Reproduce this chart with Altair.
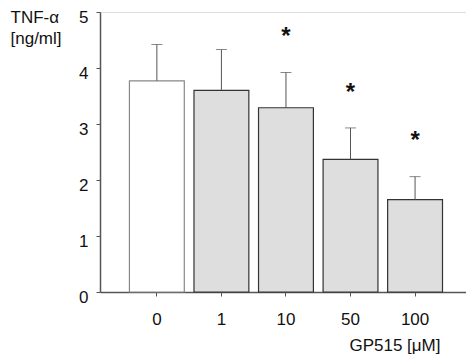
import altair as alt
import pandas as pd

conc = ["0", "1", "10", "50", "100"]
mean = [3.77, 3.60, 3.29, 2.37, 1.65]
err_top = [4.42, 4.33, 3.92, 2.93, 2.06]
stars = ["", "", "*", "*", "*"]
kind = ["control", "drug", "drug", "drug", "drug"]

df = pd.DataFrame({"conc": conc, "mean": mean, "err": err_top, "star": stars, "kind": kind})

FONT = "Liberation Sans"
AX = "#555555"

x = alt.X("conc:N", sort=conc,
          scale=alt.Scale(paddingInner=0.15, paddingOuter=0.41, align=0.556),
          axis=alt.Axis(title="GP515 [μM]", labelAngle=0, labelFontSize=17,
                        labelFont=FONT, labelColor="#111", labelPadding=15,
                        tickSize=4, tickColor=AX, domainColor=AX, domainWidth=1.5,
                        titleFont=FONT, titleFontSize=17, titleFontWeight="normal",
                        titleColor="#111", titleAnchor="start", titleAlign="right",
                        titleX=340, titleY=58, titleBaseline="alphabetic"))

y = alt.Y("mean:Q",
          scale=alt.Scale(domain=[0, 5], nice=False),
          axis=alt.Axis(values=[0, 0.5, 1, 1.5, 2, 2.5, 3, 3.5, 4, 4.5, 5],
                        labelExpr="datum.value % 1 == 0 ? format(datum.value, 'd') : ''",
                        grid=False, tickSize=4, tickColor=AX, domainColor=AX,
                        domainWidth=1.5, labelFontSize=17, labelFont=FONT,
                        labelColor="#111", labelPadding=8, labelBaseline="middle",
                        labelOffset=5,
                        title=["TNF-α", "[ng/ml]"], titleAngle=0, titleAlign="left",
                        titleBaseline="top", titleX=-90, titleY=-3, titleFont=FONT,
                        titleFontSize=17, titleFontWeight="normal", titleColor="#111",
                        titleLineHeight=21))

base = alt.Chart(df)

bars = base.mark_bar(strokeWidth=1.2).encode(
    x=x, y=y,
    fill=alt.Fill("kind:N", scale=alt.Scale(domain=["control", "drug"], range=["#ffffff", "#dedede"]), legend=None),
    stroke=alt.Stroke("kind:N", scale=alt.Scale(domain=["control", "drug"], range=["#888888", "#333333"]), legend=None),
)

rule = base.mark_rule(color="#555555", strokeWidth=1).encode(
    x=alt.X("conc:N", sort=conc), y="mean:Q", y2="err:Q")

cap = base.mark_tick(color="#555555", thickness=1, size=11).encode(
    x=alt.X("conc:N", sort=conc), y="err:Q")

star = base.transform_calculate(sy="datum.err + 0.7").mark_text(
    font=FONT, fontSize=24, fontWeight="bold", color="#111", baseline="alphabetic", dy=11
).encode(x=alt.X("conc:N", sort=conc), y="sy:Q", text="star:N")

chart = alt.layer(bars, rule, cap, star).properties(
    width=366, height=280,
    autosize=alt.AutoSizeParams(type="none"),
    padding={"left": 92, "top": 4, "right": 0, "bottom": 64},
).configure_view(stroke=None).configure(background="white")

chart.save("out.html", embed_options={"renderer": "svg", "actions": False})
